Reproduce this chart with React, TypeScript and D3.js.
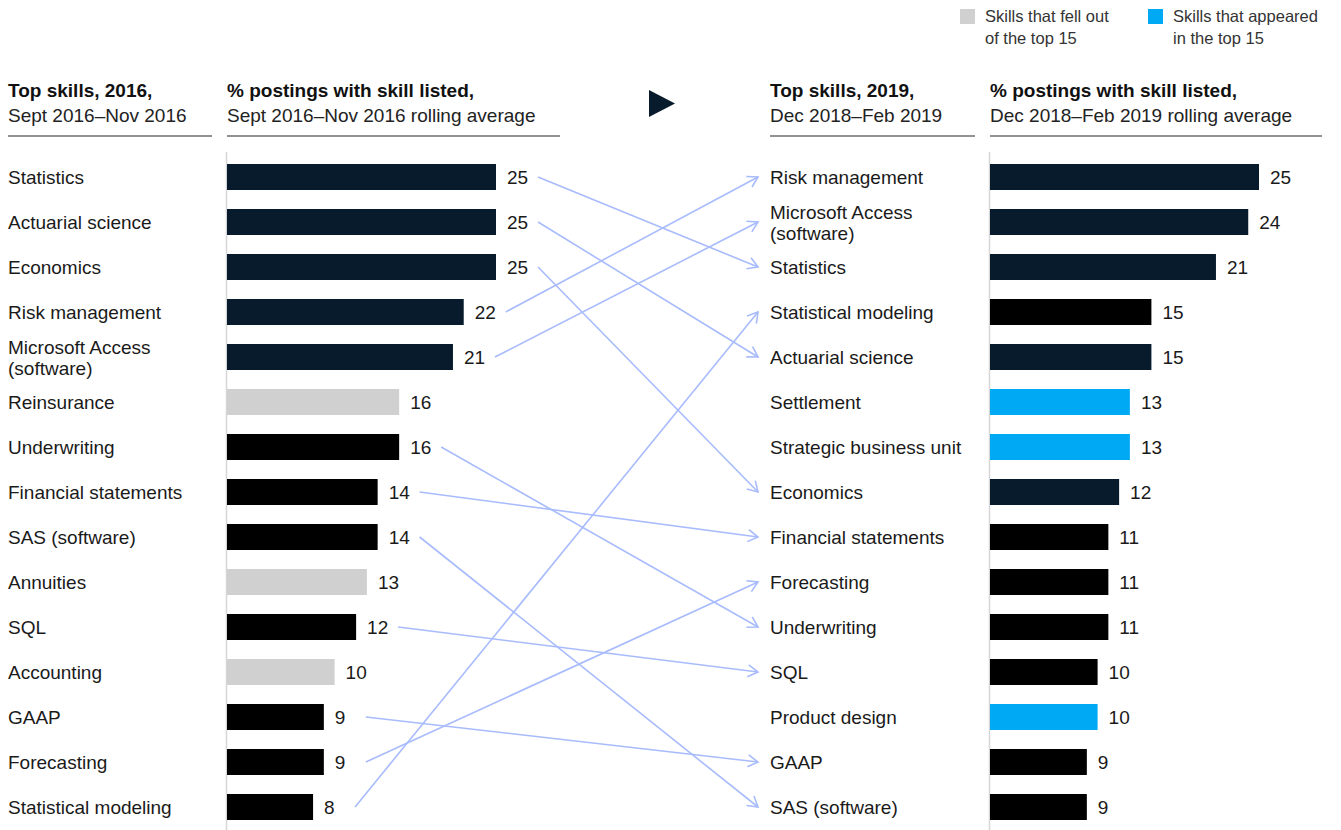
import React from "react";
import * as d3 from "d3";

const skills2016 = ["Statistics", "Actuarial science", "Economics", "Risk management", "Microsoft Access\n(software)", "Reinsurance", "Underwriting", "Financial statements", "SAS (software)", "Annuities", "SQL", "Accounting", "GAAP", "Forecasting", "Statistical modeling"];
const values2016 = [25, 25, 25, 22, 21, 16, 16, 14, 14, 13, 12, 10, 9, 9, 8];
const kinds2016 = ["navy", "navy", "navy", "navy", "navy", "out", "black", "black", "black", "out", "black", "out", "black", "black", "black"];

const skills2019 = ["Risk management", "Microsoft Access\n(software)", "Statistics", "Statistical modeling", "Actuarial science", "Settlement", "Strategic business unit", "Economics", "Financial statements", "Forecasting", "Underwriting", "SQL", "Product design", "GAAP", "SAS (software)"];
const values2019 = [25, 24, 21, 15, 15, 13, 13, 12, 11, 11, 11, 10, 10, 9, 9];
const kinds2019 = ["navy", "navy", "navy", "black", "navy", "new", "new", "navy", "black", "black", "black", "black", "new", "black", "black"];

const legendLabels = [["Skills that fell out", "of the top 15"], ["Skills that appeared", "in the top 15"]];

const colors: Record<string, string> = { navy: "#071b2c", black: "#000000", out: "#d0d0d0", new: "#00a9f4" };
const ARROW = "#a8bbfc";
const FONT = "'Liberation Sans', Arial, sans-serif";

export default function App() {
  const W = 1341, H = 830;
  const idx = d3.range(15);
  const y = d3.scalePoint<number>().domain(idx).range([177, 807]);
  const x = d3.scaleLinear().domain([0, 25]).range([0, 269]);
  const leftBarX = 227, rightBarX = 990, rightLabelX = 770;
  const fs = 19;

  const label = (text: string, lx: number, cy: number, key: string) => {
    const lines = text.split("\n");
    if (lines.length === 1)
      return <text key={key} x={lx} y={cy} dominantBaseline="central" fontSize={fs} fill="#1a1a1a">{text}</text>;
    return (
      <text key={key} x={lx} y={cy} fontSize={fs} fill="#1a1a1a">
        <tspan x={lx} y={cy - 10} dominantBaseline="central">{lines[0]}</tspan>
        <tspan x={lx} y={cy + 11} dominantBaseline="central">{lines[1]}</tspan>
      </text>
    );
  };

  const header = (x0: number, x1: number, bold: string, sub: string, key: string) => (
    <g key={key}>
      <text x={x0} y={97} fontSize={fs} fontWeight="bold" fill="#111">{bold}</text>
      <text x={x0} y={122} fontSize={fs} fill="#222">{sub}</text>
      <line x1={x0} x2={x1} y1={136} y2={136} stroke="#6e6e6e" strokeWidth={1.6} />
    </g>
  );

  const bars = (vals: number[], kinds: string[], bx: number, pre: string) =>
    vals.map((v, i) => (
      <g key={pre + i}>
        <rect x={bx} y={(y(i) as number) - 13} width={x(v)} height={26} fill={colors[kinds[i]]} />
        <text x={bx + x(v) + 11} y={y(i)} dominantBaseline="central" fontSize={fs} fill="#1a1a1a">{v}</text>
      </g>
    ));

  const key = (s: string) => s.replace("\n", " ");
  const arrows = skills2016.map((s, i) => {
    const j = skills2019.findIndex((t) => key(t) === key(s));
    if (j < 0) return null;
    const x1 = leftBarX + x(values2016[i]) + 42;
    return (
      <line key={"a" + i} x1={x1} y1={y(i)} x2={758} y2={y(j)} stroke={ARROW} strokeWidth={1.6} markerEnd="url(#ah)" />
    );
  });

  return (
    <svg width={W} height={H} style={{ position: "absolute", left: 0, top: 0, fontFamily: FONT }}>
      <defs>
        <marker id="ah" markerUnits="userSpaceOnUse" markerWidth={16} markerHeight={16} refX={11} refY={7} orient="auto" viewBox="0 0 16 14">
          <path d="M1,1 L11,7 L1,13" fill="none" stroke={ARROW} strokeWidth={1.6} />
        </marker>
      </defs>
      <rect width={W} height={H} fill="#fff" />

      {/* legend */}
      <rect x={960} y={9} width={15} height={15} fill={colors.out} />
      <text x={985} y={22} fontSize={16.5} fill="#333">{legendLabels[0][0]}</text>
      <text x={985} y={44} fontSize={16.5} fill="#333">{legendLabels[0][1]}</text>
      <rect x={1148} y={9} width={15} height={15} fill={colors.new} />
      <text x={1173} y={22} fontSize={16.5} fill="#333">{legendLabels[1][0]}</text>
      <text x={1173} y={44} fontSize={16.5} fill="#333">{legendLabels[1][1]}</text>

      {header(8, 212, "Top skills, 2016,", "Sept 2016–Nov 2016", "h1")}
      {header(227, 560, "% postings with skill listed,", "Sept 2016–Nov 2016 rolling average", "h2")}
      {header(770, 975, "Top skills, 2019,", "Dec 2018–Feb 2019", "h3")}
      {header(990, 1322, "% postings with skill listed,", "Dec 2018–Feb 2019 rolling average", "h4")}

      <path d="M649,90 L675,103.5 L649,117 Z" fill={colors.navy} />

      <line x1={226.5} x2={226.5} y1={152} y2={830} stroke="#d6d6d6" strokeWidth={1.5} />
      <line x1={989.5} x2={989.5} y1={152} y2={830} stroke="#d6d6d6" strokeWidth={1.5} />

      {skills2016.map((s, i) => label(s, 8, y(i) as number, "l" + i))}
      {skills2019.map((s, i) => label(s, rightLabelX, y(i) as number, "r" + i))}
      {bars(values2016, kinds2016, leftBarX, "b1")}
      {bars(values2019, kinds2019, rightBarX, "b2")}
      {arrows}
    </svg>
  );
}
